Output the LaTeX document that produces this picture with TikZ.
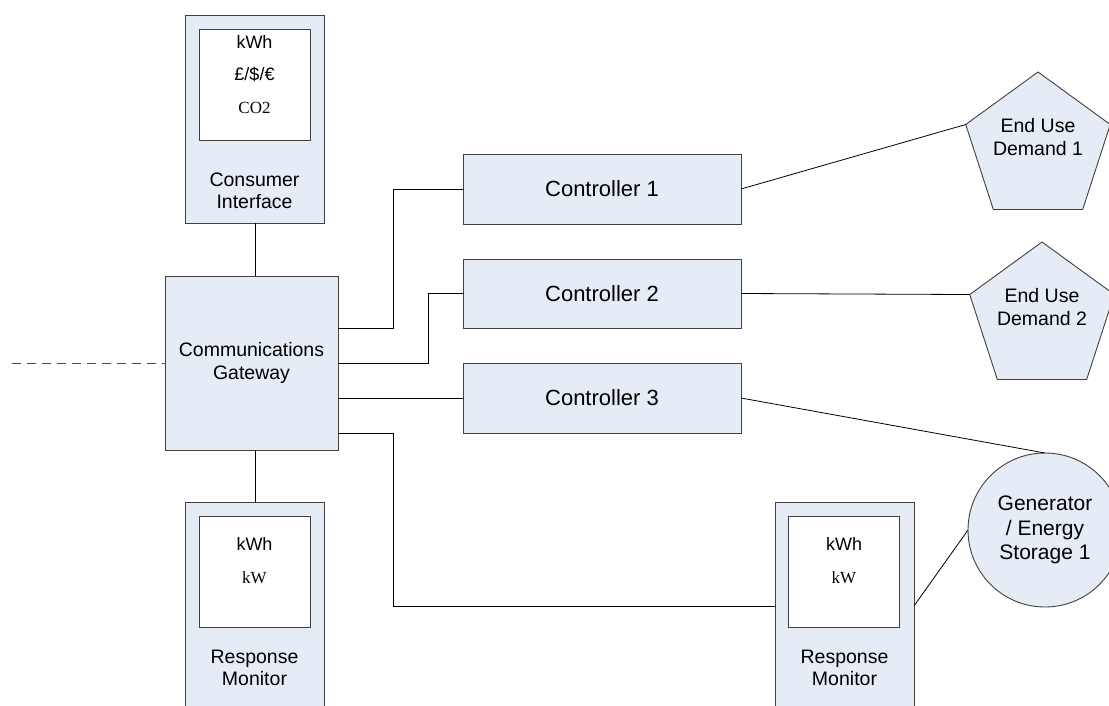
\documentclass[tikz,border=0pt]{standalone}
\usepackage{fontspec}
\setmainfont{Liberation Sans}
\newfontfamily\tnr{Liberation Serif}
\usetikzlibrary{shapes.geometric}
\definecolor{boxfill}{RGB}{230,236,246}
\definecolor{edge}{RGB}{64,64,64}
\tikzset{
  box/.style={draw=edge, fill=boxfill, line width=0.9pt, inner sep=0pt, outer sep=0pt},
  screen/.style={draw=edge, fill=white, line width=0.9pt, inner sep=0pt, outer sep=0pt, minimum width=111pt, minimum height=111pt},
  conn/.style={draw=black, line width=0.8pt},
  lbl/.style={align=center, font=\fontsize{19.5}{22.5}\selectfont, inner sep=0pt},
  biglbl/.style={align=center, font=\fontsize{21}{24.5}\selectfont, inner sep=0pt},
  ctl/.style={box, minimum width=278pt, minimum height=70pt, font=\fontsize{22}{26}\selectfont},
  pent/.style={box, regular polygon, regular polygon sides=5, minimum size=152pt},
  small/.style={font=\fontsize{18}{20}\selectfont, inner sep=0pt},
  smallserif/.style={font=\tnr\fontsize{17}{20}\selectfont, inner sep=0pt},
}
\begin{document}
\begin{tikzpicture}[x=1pt,y=-1pt]
\clip (0,0) rectangle (1109,705);
% Consumer interface
\node[box, minimum width=139pt, minimum height=208pt] (ci) at (254.5,119) {};
\node[screen] (ciscr) at (254.5,84.5) {};
\node[small] (cikwh) at (254.5,42) {kWh};
\node[small] (cicur) at (254.5,74) {£/\$/€};
\node[smallserif] (cico) at (254.5,108) {CO2};
\node[lbl] (cit) at (254.5,191) {Consumer\\Interface};
% Gateway
\node[box, minimum width=173pt, minimum height=174pt, lbl] (gw) at (251.5,363) {Communications\\Gateway};
% Response monitor 1
\node[box, minimum width=139pt, minimum height=208pt] (rm1) at (254.5,606) {};
\node[screen] (rm1scr) at (254.5,571.5) {};
\node[small] (rm1kwh) at (254.5,544) {kWh};
\node[smallserif] (rm1kw) at (254.5,578) {kW};
\node[lbl] (rm1t) at (254.5,668) {Response\\Monitor};
% Response monitor 2
\node[box, minimum width=139pt, minimum height=208pt] (rm2) at (844.5,606) {};
\node[screen] (rm2scr) at (844,571.5) {};
\node[small] (rm2kwh) at (844,544) {kWh};
\node[smallserif] (rm2kw) at (844,578) {kW};
\node[lbl] (rm2t) at (844.5,668) {Response\\Monitor};
% Controllers
\node[ctl] (c1) at (602,189) {Controller 1};
\node[ctl, minimum height=69pt] (c2) at (602,293.5) {Controller 2};
\node[ctl] (c3) at (602,398) {Controller 3};
% End uses
\node[pent, label={[lbl, yshift=11pt]center:End Use\\Demand 1}] (p1) at (1038,148) {};
\node[pent, label={[lbl, yshift=11pt]center:End Use\\Demand 2}] (p2) at (1042,318) {};
\node[box, circle, minimum size=154pt, biglbl] (gen) at (1045,530) {Generator\\/ Energy\\Storage 1};
% connectors
\coordinate (ext) at (12,363);
\draw[conn, draw=black!70, dash pattern=on 9pt off 6pt] (ext) -- (gw.west);
\draw[conn] (ci.south -| 255,0) -- (255,0 |- gw.north);
\draw[conn] (255,0 |- gw.south) -- (255,0 |- rm1.north);
\draw[conn] ([yshift=35pt]gw.east) -- ++(55,0) |- (c1.west);
\draw[conn] (gw.east) -- ++(90,0) |- (c2.west);
\draw[conn] ([yshift=-35pt]gw.east) -- (c3.west);
\draw[conn] ([yshift=-70pt]gw.east) -- ++(55,0) |- (rm2.west);
\draw[conn] (c1.east) -- (p1.corner 2);
\draw[conn] (c2.east) -- (p2.corner 2);
\draw[conn] (c3.east) -- (gen.north);
\draw[conn] (rm2.east) -- (gen.west);
\end{tikzpicture}
\end{document}
